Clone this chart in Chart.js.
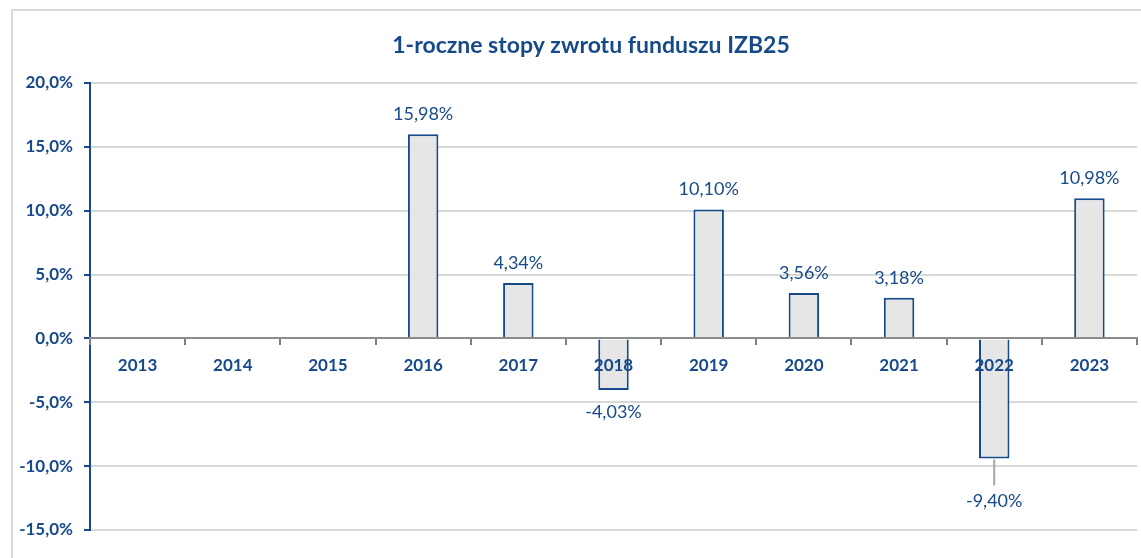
<!DOCTYPE html>
<html>
<head>
<meta charset="utf-8">
<script src="https://cdn.jsdelivr.net/npm/chart.js@4/dist/chart.umd.min.js"></script>
<style>
  html, body { margin: 0; padding: 0; background: #fff; overflow: hidden; }
  #frame { position: absolute; left: 11px; top: 9px; width: 1200px; height: 600px; border: 2px solid #d9d9d9; }
  #wrap { position: absolute; left: 0; top: 0; width: 1141px; height: 558px; }
</style>
</head>
<body>
<div id="frame"></div>
<div id="wrap"><canvas id="plot-canvas"></canvas></div>
<script>
"use strict";

const years = ['2013', '2014', '2015', '2016', '2017', '2018', '2019', '2020', '2021', '2022', '2023'];
const returns = [null, null, null, 15.98, 4.34, -4.03, 10.10, 3.56, 3.18, -9.40, 10.98];
const yTicks = [20, 15, 10, 5, 0, -5, -10, -15];
const chartTitle = '1-roczne stopy zwrotu funduszu IZB25';

const BLUE = '#174a8a';
const FONT = 'Lato, "Open Sans", sans-serif';

const pct = (v, d) => v.toFixed(d).replace('.', ',') + '%';

// Titel + Werte an den Balken
const labelPlugin = {
    id: 'barLabels',
    afterDraw(chart) {
        const c = chart.ctx;
        c.save();
        c.fillStyle = BLUE;
        c.font = 'bold 23px ' + FONT;
        c.textAlign = 'center';
        c.textBaseline = 'middle';
        c.fillText(chartTitle, 591, 46);

        const meta = chart.getDatasetMeta(0);
        c.font = '18px ' + FONT;
        meta.data.forEach((bar, i) => {
            const v = returns[i];
            if (v === null) return;
            let y;
            if (v >= 0) {
                y = bar.y - 20;
            } else if (years[i] === '2022') {
                // Label nach unten versetzt, mit Hilfslinie
                c.strokeStyle = '#a6a6a6';
                c.lineWidth = 2;
                c.beginPath();
                c.moveTo(bar.x, bar.y + 1);
                c.lineTo(bar.x, bar.y + 27);
                c.stroke();
                y = bar.y + 43;
            } else {
                y = bar.y + 22;
            }
            c.fillStyle = BLUE;
            c.fillText(pct(v, 2), bar.x, y);
        });
        c.restore();
    }
};

const ctx = document.getElementById('plot-canvas').getContext('2d');

const chart = new Chart(ctx, {
    type: 'bar',
    data: {
        labels: years,
        datasets: [{
            data: returns,
            backgroundColor: '#e6e6e6',
            borderColor: BLUE,
            borderWidth: 2,
            categoryPercentage: 1,
            barPercentage: 0.32
        }]
    },
    options: {
        responsive: true,
        maintainAspectRatio: false,
        animation: false,
        layout: { padding: { top: 83, right: 4, bottom: 28, left: 0 } },
        plugins: {
            legend: { display: false },
            tooltip: { enabled: false }
        },
        scales: {
            x: {
                position: { y: 0 },
                grid: {
                    z: 1,
                    offset: true,
                    drawOnChartArea: false,
                    drawTicks: true,
                    tickLength: 6,
                    color: '#7f7f7f',
                    lineWidth: 2
                },
                border: { display: true, color: '#8c8c8c', width: 2, z: 1 },
                ticks: {
                    z: 1,
                    color: BLUE,
                    font: { family: FONT, size: 17, weight: 'bold' },
                    padding: 11
                }
            },
            y: {
                min: -15,
                max: 20,
                afterFit: scale => { scale.width = 90; },
                afterBuildTicks: scale => { scale.ticks = yTicks.map(v => ({ value: v })); },
                grid: {
                    color: '#d9d9d9',
                    lineWidth: 2,
                    tickColor: BLUE,
                    tickLength: 6
                },
                border: { display: true, color: BLUE, width: 2 },
                ticks: {
                    color: BLUE,
                    font: { family: FONT, size: 17, weight: 'bold' },
                    padding: 11,
                    callback: v => pct(v, 1)
                }
            }
        }
    },
    plugins: [labelPlugin]
});
</script>
</body>
</html>
